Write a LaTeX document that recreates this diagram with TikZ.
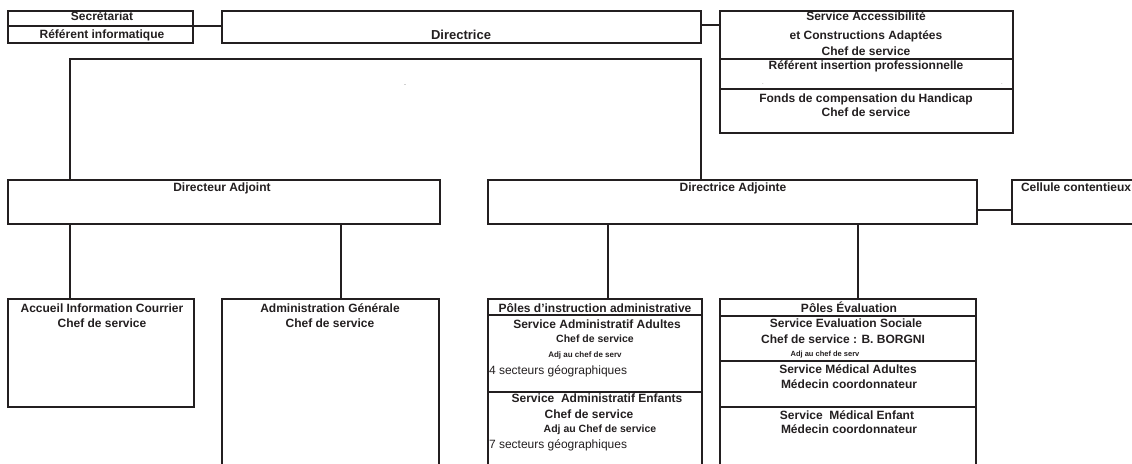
\documentclass[tikz,border=0pt]{standalone}
\usepackage{fontspec}
\setmainfont{Liberation Sans}
\definecolor{ink}{RGB}{35,31,32}
\begin{document}
\begin{tikzpicture}[x=1pt,y=-1pt,
  box/.style={draw=ink, line width=2.1pt, rectangle, inner sep=0pt, outer sep=0pt, anchor=north west},
  lbl/.style={inner sep=0pt, outer sep=0pt, anchor=base, text=ink, font=\fontsize{12}{14}\selectfont\bfseries},
  lbll/.style={lbl, anchor=base west},
  reg/.style={lbll, font=\fontsize{12}{14}\selectfont},
  small/.style={lbl, font=\fontsize{8}{9}\selectfont\bfseries},
  mid/.style={lbl, font=\fontsize{10.5}{12}\selectfont\bfseries},
  conn/.style={draw=ink, line width=2.1pt},
  thinconn/.style={draw=ink, line width=1.4pt},
  speck/.style={inner sep=0pt, anchor=base, text=ink!60, font=\fontsize{6}{7}\selectfont}]
\useasboundingbox (0,0) rectangle (1132,463);
\clip (0,0) rectangle (1132,463);
% ---------- labels ----------
\node[lbl] (tSec) at (102,20) {Secrétariat};
\node[lbl] (tRef) at (102,38) {Référent informatique};
\node[lbl, font=\fontsize{13}{15}\selectfont\bfseries] (tDir) at (461,39) {Directrice};
\node[speck] (tSpeck) at (405,86) {-};
\node[lbl] (tAcc1) at (866,20) {Service Accessibilité};
\node[lbl] (tAcc2) at (866,39) {et Constructions Adaptées};
\node[lbl] (tAcc3) at (866,55) {Chef de service};
\node[lbl] (tAcc4) at (866,69) {Référent insertion professionnelle};
\node[speck] (tDot1) at (763,84) {.};
\node[speck] (tDot2) at (1002,84) {.};
\node[lbl] (tAcc5) at (866,102) {Fonds de compensation du Handicap};
\node[lbl] (tAcc6) at (866,116) {Chef de service};
\node[lbl] (tDA) at (222,191) {Directeur Adjoint};
\node[lbl] (tDB) at (733,191) {Directrice Adjointe};
\node[lbll] (tCel) at (1021,191) {Cellule contentieux};
\node[lbl] (tAci1) at (102,312) {Accueil Information Courrier};
\node[lbl] (tAci2) at (102,327) {Chef de service};
\node[lbl] (tAdm1) at (330,312) {Administration Générale};
\node[lbl] (tAdm2) at (330,327) {Chef de service};
\node[lbl] (tPi1) at (595,312) {Pôles d’instruction administrative};
\node[lbl] (tPi2) at (597,328) {Service Administratif Adultes};
\node[mid] (tPi3) at (595,342) {Chef de service};
\node[small] (tPi4) at (585,357) {Adj au chef de serv};
\node[reg] (tPi5) at (489,374) {4 secteurs géographiques};
\node[lbl] (tPi6) at (597,402) {Service\ \ Administratif Enfants};
\node[lbl] (tPi7) at (589,418) {Chef de service};
\node[mid] (tPi8) at (600,432) {Adj au Chef de service};
\node[reg] (tPi9) at (489,448) {7 secteurs géographiques};
\node[lbl] (tPe1) at (849,312) {Pôles Évaluation};
\node[lbl] (tPe2) at (846,327) {Service Evaluation Sociale};
\node[lbl] (tPe3) at (843,343) {Chef de service : B. BORGNI};
\node[small, font=\fontsize{7.5}{8}\selectfont\bfseries] (tPe4) at (825,356) {Adj au chef de serv};
\node[lbl] (tPe5) at (848,373) {Service Médical Adultes};
\node[lbl] (tPe6) at (849,388) {Médecin coordonnateur};
\node[lbl] (tPe7) at (847,419) {Service\ \ Médical Enfant};
\node[lbl] (tPe8) at (849,433) {Médecin coordonnateur};
% ---------- boxes ----------
\node[box, minimum width=185pt, minimum height=15pt] (sec) at (8,11) {};
\node[box, minimum width=185pt, minimum height=17pt] (ref) at (8,26) {};
\node[box, minimum width=479pt, minimum height=32pt] (dir) at (222,11) {};
\node[box, minimum width=293pt, minimum height=48pt] (acc1) at (720,11) {};
\node[box, minimum width=293pt, minimum height=30pt] (acc2) at (720,59) {};
\node[box, minimum width=293pt, minimum height=44pt] (acc3) at (720,89) {};
\node[box, minimum width=432pt, minimum height=44pt] (dA) at (8,180) {};
\node[box, minimum width=489pt, minimum height=44pt] (dB) at (488,180) {};
\node[box, minimum width=140pt, minimum height=44pt] (cel) at (1012,180) {};
\node[box, minimum width=186pt, minimum height=108pt] (aci) at (8,299) {};
\node[box, minimum width=217pt, minimum height=181pt] (adm) at (222,299) {};
\node[box, minimum width=214pt, minimum height=16pt] (pi1) at (488,299) {};
\node[box, minimum width=214pt, minimum height=77pt] (pi2) at (488,315) {};
\node[box, minimum width=214pt, minimum height=88pt] (pi3) at (488,392) {};
\node[box, minimum width=256pt, minimum height=17pt] (pe1) at (720,299) {};
\node[box, minimum width=256pt, minimum height=45pt] (pe2) at (720,316) {};
\node[box, minimum width=256pt, minimum height=46pt] (pe3) at (720,361) {};
\node[box, minimum width=256pt, minimum height=73pt] (pe4) at (720,407) {};
% ---------- connectors ----------
\coordinate (fL) at (70,59);
\coordinate (fR) at (701,59);
\coordinate (xAdm) at (341,0);
\coordinate (xPi) at (608,0);
\coordinate (xPe) at (858,0);
\coordinate (yCel) at (0,210);
\coordinate (yDir) at (0,25);
\draw[conn] (ref.north east) -- (ref.north east -| dir.west);
\draw[conn] (dir.east |- yDir) -- (acc1.west |- yDir);
\draw[conn] (fL |- dA.north) -- (fL) -- (fR) -- (fR |- dB.north);
\draw[conn] (fL |- dA.south) -- (fL |- aci.north);
\draw[conn] (xAdm |- dA.south) -- (xAdm |- adm.north);
\draw[thinconn] (xPi |- dB.south) -- (xPi |- pi1.north);
\draw[thinconn] (xPe |- dB.south) -- (xPe |- pe1.north);
\draw[conn] (dB.east |- yCel) -- (cel.west |- yCel);
\end{tikzpicture}
\end{document}
